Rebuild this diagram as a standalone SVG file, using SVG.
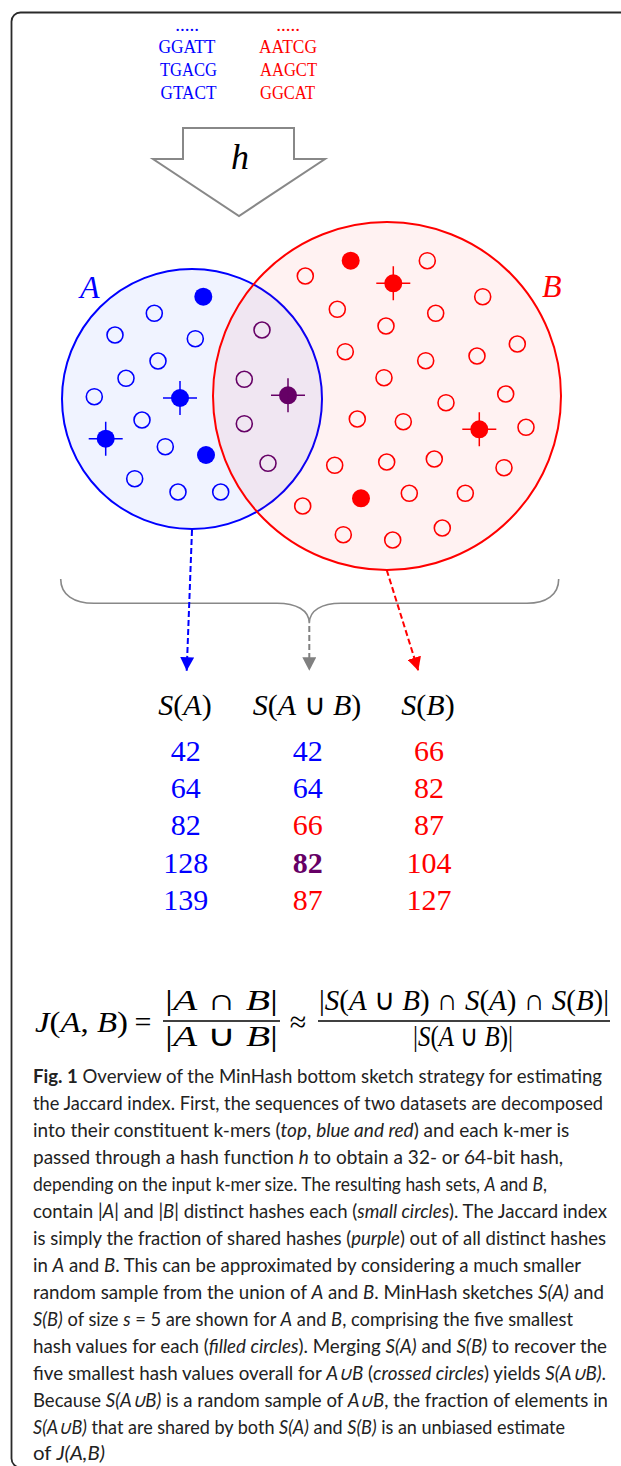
<svg xmlns="http://www.w3.org/2000/svg" width="621" height="1466" viewBox="0 0 621 1466">
<style>
.serif{font-family:"Liberation Serif","Times New Roman",serif}
.kb{fill:#0000ff;font-size:19px}
.kr{fill:#ff0000;font-size:19px}
.ob{fill:none;stroke:#0000ff;stroke-width:1.6}
.fb{fill:#0000ff}
.xb{stroke:#0000ff;stroke-width:1.5}
.or{fill:none;stroke:#ff0000;stroke-width:1.6}
.fr{fill:#ff0000}
.xr{stroke:#ff0000;stroke-width:1.5}
.op{fill:none;stroke:#660066;stroke-width:1.6}
.fp{fill:#660066}
.xp{stroke:#660066;stroke-width:1.5}
.num{font-size:30px;text-anchor:middle}
.hdr{font-size:30px;text-anchor:middle;fill:#000}
.math{font-size:30px;fill:#000}
.cap{font-family:Lato,"Open Sans",sans-serif;font-size:19px;fill:#222}
.it{font-style:italic}
</style>
<defs>
<marker id="ahB" markerUnits="userSpaceOnUse" markerWidth="14" markerHeight="14" refX="13.5" refY="7" orient="auto"><path d="M0,0 L13.5,7 L0,14 z" fill="#0000ff"/></marker>
<marker id="ahG" markerUnits="userSpaceOnUse" markerWidth="14" markerHeight="14" refX="13.5" refY="7" orient="auto"><path d="M0,0 L13.5,7 L0,14 z" fill="#808080"/></marker>
<marker id="ahR" markerUnits="userSpaceOnUse" markerWidth="14" markerHeight="14" refX="13.5" refY="7" orient="auto"><path d="M0,0 L13.5,7 L0,14 z" fill="#ff0000"/></marker>
</defs>

<rect id="frame" x="11.5" y="12.5" width="700" height="1455" rx="9" fill="none" stroke="#2a2a2a" stroke-width="1.8"/>

<g id="kmers-A" class="serif kb" text-anchor="middle">
<text x="187" y="31">.....</text>
<text x="187" y="53" textLength="57" lengthAdjust="spacingAndGlyphs">GGATT</text>
<text x="188.5" y="76" textLength="57" lengthAdjust="spacingAndGlyphs">TGACG</text>
<text x="188.5" y="99" textLength="56" lengthAdjust="spacingAndGlyphs">GTACT</text>
</g>
<g id="kmers-B" class="serif kr" text-anchor="middle">
<text x="288" y="31">.....</text>
<text x="288" y="53" textLength="58" lengthAdjust="spacingAndGlyphs">AATCG</text>
<text x="288.5" y="76" textLength="57" lengthAdjust="spacingAndGlyphs">AAGCT</text>
<text x="287.5" y="99" textLength="55" lengthAdjust="spacingAndGlyphs">GGCAT</text>
</g>

<g id="hash-function">
<polygon points="183,128 294,128 294,159 325,159 239,216 153,159 183,159" fill="#fff" stroke="#888" stroke-width="2"/>
<text x="240" y="169" class="serif it" font-size="36" text-anchor="middle">h</text>
</g>

<g id="set-A">
<circle cx="192" cy="399" r="130" fill="#f0f3ff" stroke="#0000ff" stroke-width="2"/>
<text x="80" y="298" class="serif it" font-size="32" fill="#0000ff">A</text>
</g>
<g id="set-B">
<circle cx="387" cy="396" r="174" fill="#ff0000" fill-opacity="0.05" stroke="#ff0000" stroke-width="2"/>
<text x="542" y="297" class="serif it" font-size="32" fill="#ff0000">B</text>
</g>

<g id="hashes-A">
<circle class="ob" cx="154.3" cy="313.3" r="8"/>
<circle class="ob" cx="115" cy="335" r="8"/>
<circle class="ob" cx="195.3" cy="338.7" r="8"/>
<circle class="ob" cx="158" cy="361" r="8"/>
<circle class="ob" cx="126" cy="378.3" r="8"/>
<circle class="ob" cx="94.3" cy="396.7" r="8"/>
<circle class="ob" cx="142" cy="420" r="8"/>
<circle class="ob" cx="165.3" cy="446.7" r="8"/>
<circle class="ob" cx="134.7" cy="478.7" r="8"/>
<circle class="ob" cx="178" cy="492" r="8"/>
<circle class="ob" cx="220.7" cy="492" r="8"/>
<circle class="fb" cx="203.3" cy="296.7" r="9"/>
<circle class="fb" cx="206" cy="455" r="9"/>
<circle class="fb" cx="180" cy="398" r="9"/>
<path class="xb" d="M163,398 H197 M180,381 V415"/>
<circle class="fb" cx="105.7" cy="438.7" r="9"/>
<path class="xb" d="M88.7,438.7 H122.7 M105.7,421.7 V455.7"/>
</g>

<g id="hashes-shared">
<circle class="op" cx="262" cy="330" r="8"/>
<circle class="op" cx="244.3" cy="379.3" r="8"/>
<circle class="op" cx="244.3" cy="423.7" r="8"/>
<circle class="op" cx="268" cy="463.3" r="8"/>
<circle class="fp" cx="288" cy="395.3" r="9"/>
<path class="xp" d="M271,395.3 H305 M288,378.3 V412.3"/>
</g>

<g id="hashes-B">
<circle class="or" cx="305.3" cy="276" r="8"/>
<circle class="or" cx="427.3" cy="260.7" r="8"/>
<circle class="or" cx="482.7" cy="296.7" r="8"/>
<circle class="or" cx="337.3" cy="309.3" r="8"/>
<circle class="or" cx="435.7" cy="313.3" r="8"/>
<circle class="or" cx="386" cy="326" r="8"/>
<circle class="or" cx="345.3" cy="351.7" r="8"/>
<circle class="or" cx="425.7" cy="360.7" r="8"/>
<circle class="or" cx="477" cy="356" r="8"/>
<circle class="or" cx="517.3" cy="344" r="8"/>
<circle class="or" cx="384" cy="377.7" r="8"/>
<circle class="or" cx="505.7" cy="394" r="8"/>
<circle class="or" cx="446" cy="402.7" r="8"/>
<circle class="or" cx="357.3" cy="419" r="8"/>
<circle class="or" cx="403.3" cy="421.7" r="8"/>
<circle class="or" cx="526" cy="427.3" r="8"/>
<circle class="or" cx="334.7" cy="465.3" r="8"/>
<circle class="or" cx="386.7" cy="462" r="8"/>
<circle class="or" cx="434.3" cy="459" r="8"/>
<circle class="or" cx="504" cy="467.7" r="8"/>
<circle class="or" cx="409.3" cy="493.3" r="8"/>
<circle class="or" cx="465.3" cy="493.3" r="8"/>
<circle class="or" cx="302.7" cy="506" r="8"/>
<circle class="or" cx="343.3" cy="534.7" r="8"/>
<circle class="or" cx="392.7" cy="540" r="8"/>
<circle class="or" cx="442.3" cy="528" r="8"/>
<circle class="fr" cx="350.7" cy="260.7" r="9"/>
<circle class="fr" cx="361" cy="498.3" r="9"/>
<circle class="fr" cx="393.3" cy="283.3" r="9"/>
<path class="xr" d="M376.3,283.3 H410.3 M393.3,266.3 V300.3"/>
<circle class="fr" cx="479.3" cy="429.3" r="9"/>
<path class="xr" d="M462.3,429.3 H496.3 M479.3,412.3 V446.3"/>
</g>

<g id="connectors" fill="none">
<path d="M60.7,579 C60.7,595 74,603.3 94,603.3 H277 C296,603.3 309.3,610 309.3,623.3 C309.3,610 322,603.3 341,603.3 H527 C546,603.3 558.7,595 558.7,579" stroke="#888" stroke-width="1.6"/>
<line x1="192" y1="530" x2="186.7" y2="670.7" stroke="#0000ff" stroke-width="2" stroke-dasharray="6,3" marker-end="url(#ahB)"/>
<line x1="309.3" y1="626" x2="309.3" y2="670.7" stroke="#808080" stroke-width="2" stroke-dasharray="6,3" marker-end="url(#ahG)"/>
<line x1="386.7" y1="570" x2="418.3" y2="670.7" stroke="#ff0000" stroke-width="2" stroke-dasharray="6,3" marker-end="url(#ahR)"/>
</g>

<g id="sketch-A" class="serif">
<text class="hdr" x="185" y="715"><tspan class="it">S</tspan>(<tspan class="it">A</tspan>)</text>
<g class="num" fill="#0000ff">
<text x="185.7" y="761">42</text>
<text x="185.7" y="798">64</text>
<text x="185.7" y="835">82</text>
<text x="185.7" y="872.5">128</text>
<text x="185.7" y="910">139</text>
</g>
</g>
<g id="sketch-AuB" class="serif">
<text class="hdr" x="307" y="715"><tspan class="it">S</tspan>(<tspan class="it">A</tspan> ∪ <tspan class="it">B</tspan>)</text>
<g class="num">
<text x="307.7" y="761" fill="#0000ff">42</text>
<text x="307.7" y="798" fill="#0000ff">64</text>
<text x="307.7" y="835" fill="#ff0000">66</text>
<text x="307.7" y="872.5" fill="#660066" font-weight="bold">82</text>
<text x="307.7" y="910" fill="#ff0000">87</text>
</g>
</g>
<g id="sketch-B" class="serif">
<text class="hdr" x="428" y="715"><tspan class="it">S</tspan>(<tspan class="it">B</tspan>)</text>
<g class="num" fill="#ff0000">
<text x="429" y="761">66</text>
<text x="429" y="798">82</text>
<text x="429" y="835">87</text>
<text x="429" y="872.5">104</text>
<text x="429" y="910">127</text>
</g>
</g>

<g id="formula" class="serif math">
<text x="35" y="1032" textLength="93" lengthAdjust="spacingAndGlyphs"><tspan class="it">J</tspan>(<tspan class="it">A</tspan>, <tspan class="it">B</tspan>)</text>
<text x="143" y="1032" text-anchor="middle">=</text>
<text x="221.5" y="1010" text-anchor="middle" textLength="113" lengthAdjust="spacingAndGlyphs">|<tspan class="it">A</tspan> ∩ <tspan class="it">B</tspan>|</text>
<line x1="163" y1="1021" x2="280" y2="1021" stroke="#000" stroke-width="1.6"/>
<text x="221.5" y="1046" text-anchor="middle" textLength="113" lengthAdjust="spacingAndGlyphs">|<tspan class="it">A</tspan> ∪ <tspan class="it">B</tspan>|</text>
<text x="298" y="1032" text-anchor="middle">≈</text>
<text x="464" y="1010" text-anchor="middle" textLength="290" lengthAdjust="spacingAndGlyphs">|<tspan class="it">S</tspan>(<tspan class="it">A</tspan> ∪ <tspan class="it">B</tspan>) ∩ <tspan class="it">S</tspan>(<tspan class="it">A</tspan>) ∩ <tspan class="it">S</tspan>(<tspan class="it">B</tspan>)|</text>
<line x1="318" y1="1021" x2="610" y2="1021" stroke="#000" stroke-width="1.6"/>
<text x="463" y="1046" text-anchor="middle" textLength="100" lengthAdjust="spacingAndGlyphs">|<tspan class="it">S</tspan>(<tspan class="it">A</tspan> ∪ <tspan class="it">B</tspan>)|</text>
</g>

<g id="caption" class="cap">
<text x="33" y="1083" textLength="569" lengthAdjust="spacingAndGlyphs"><tspan font-weight="bold">Fig. 1</tspan> Overview of the MinHash bottom sketch strategy for estimating</text>
<text x="33" y="1110" textLength="570" lengthAdjust="spacingAndGlyphs">the Jaccard index. First, the sequences of two datasets are decomposed</text>
<text x="33" y="1137">into their constituent k-mers (<tspan class="it">top</tspan>, <tspan class="it">blue and red</tspan>) and each k-mer is</text>
<text x="33" y="1164">passed through a hash function <tspan class="it">h</tspan> to obtain a 32- or 64-bit hash,</text>
<text x="33" y="1191" textLength="514" lengthAdjust="spacingAndGlyphs">depending on the input k-mer size. The resulting hash sets, <tspan class="it">A</tspan> and <tspan class="it">B</tspan>,</text>
<text x="33" y="1218" textLength="574" lengthAdjust="spacingAndGlyphs">contain |<tspan class="it">A</tspan>| and |<tspan class="it">B</tspan>| distinct hashes each (<tspan class="it">small circles</tspan>). The Jaccard index</text>
<text x="33" y="1245" textLength="573" lengthAdjust="spacingAndGlyphs">is simply the fraction of shared hashes (<tspan class="it">purple</tspan>) out of all distinct hashes</text>
<text x="33" y="1272" textLength="548" lengthAdjust="spacingAndGlyphs">in <tspan class="it">A</tspan> and <tspan class="it">B</tspan>. This can be approximated by considering a much smaller</text>
<text x="33" y="1299" textLength="571" lengthAdjust="spacingAndGlyphs">random sample from the union of <tspan class="it">A</tspan> and <tspan class="it">B</tspan>. MinHash sketches <tspan class="it">S(A)</tspan> and</text>
<text x="33" y="1326" textLength="540" lengthAdjust="spacingAndGlyphs"><tspan class="it">S(B)</tspan> of size <tspan class="it">s</tspan> = 5 are shown for <tspan class="it">A</tspan> and <tspan class="it">B</tspan>, comprising the five smallest</text>
<text x="33" y="1353" textLength="574" lengthAdjust="spacingAndGlyphs">hash values for each (<tspan class="it">filled circles</tspan>). Merging <tspan class="it">S(A)</tspan> and <tspan class="it">S(B)</tspan> to recover the</text>
<text x="33" y="1380" textLength="573" lengthAdjust="spacingAndGlyphs">five smallest hash values overall for <tspan class="it">A∪B</tspan> (<tspan class="it">crossed circles</tspan>) yields <tspan class="it">S(A∪B)</tspan>.</text>
<text x="33" y="1407" textLength="575" lengthAdjust="spacingAndGlyphs">Because <tspan class="it">S(A∪B)</tspan> is a random sample of <tspan class="it">A∪B</tspan>, the fraction of elements in</text>
<text x="33" y="1434" textLength="532" lengthAdjust="spacingAndGlyphs"><tspan class="it">S(A∪B)</tspan> that are shared by both <tspan class="it">S(A)</tspan> and <tspan class="it">S(B)</tspan> is an unbiased estimate</text>
<text x="33" y="1460" textLength="72" lengthAdjust="spacingAndGlyphs">of <tspan class="it">J(A,B)</tspan></text>
</g>
</svg>
